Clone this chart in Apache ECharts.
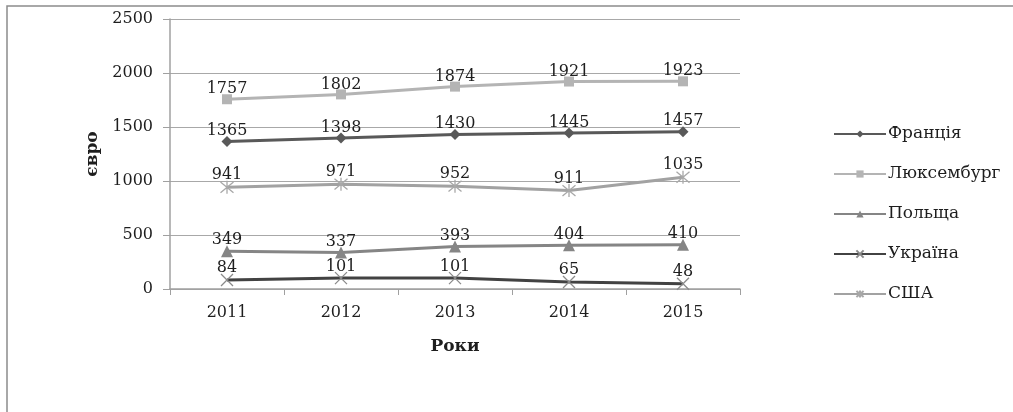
<!DOCTYPE html>
<html><head><meta charset="utf-8">
<script src="https://cdn.jsdelivr.net/npm/echarts@6/dist/echarts.min.js"></script>
<style>html,body{margin:0;padding:0;background:#fff}#c{width:1013px;height:412px}</style>
</head><body><div id="c"></div>
<script>
const years = ['2011','2012','2013','2014','2015'];
const france = [1365, 1398, 1430, 1445, 1457];
const luxembourg = [1757, 1802, 1874, 1921, 1923];
const poland = [349, 337, 393, 404, 410];
const ukraine = [84, 101, 101, 65, 48];
const usa = [941, 971, 952, 911, 1035];
const seriesNames = ['Франція','Люксембург','Польща','Україна','США'];
const yTicks = [0, 500, 1000, 1500, 2000, 2500];

const FONT = 'DejaVu Serif';
const XPATH = 'path://M0,0L10,10M10,0L0,10';
const STAR = 'path://M0,0L10,10M10,0L0,10M5,-1L5,11';

function mk(name, data, color, symbol, size, markerColor) {
  return {
    name, type: 'line', data, symbol, symbolSize: size,
    lineStyle: { color, width: 3 },
    itemStyle: markerColor ? { color: 'rgba(0,0,0,0)', borderColor: markerColor, borderWidth: 1.3 } : { color },
    label: { show: true, position: 'top', distance: -3, color: '#1e1e1e', fontFamily: FONT, fontSize: 16 },
    emphasis: { disabled: true }, animation: false
  };
}

const chart = echarts.init(document.getElementById('c'), null, { renderer: 'canvas' });
chart.setOption({
  animation: false,
  backgroundColor: '#ffffff',
  graphic: [{ type: 'rect', shape: { x: 7, y: 6, width: 1100, height: 500 }, style: { fill: 'none', stroke: '#8c8c8c', lineWidth: 1.5 }, silent: true }],
  grid: { left: 170, top: 19, right: 273, bottom: 123 },
  legend: {
    orient: 'vertical', left: 828, top: 119, itemWidth: 52, itemHeight: 9, itemGap: 20,
    data: seriesNames,
    textStyle: { fontFamily: FONT, fontSize: 17, lineHeight: 20, color: '#1e1e1e', padding: [0, 0, 0, -3] }
  },
  xAxis: {
    type: 'category', data: years, boundaryGap: true,
    name: 'Роки', nameLocation: 'middle', nameGap: 49,
    nameTextStyle: { fontFamily: FONT, fontSize: 17, fontWeight: 'bold', color: '#1e1e1e' },
    axisLine: { lineStyle: { color: '#a0a0a0', width: 1.5 } },
    axisTick: { show: true, length: 6, alignWithLabel: false, lineStyle: { color: '#a0a0a0' } },
    axisLabel: { fontFamily: FONT, fontSize: 16, color: '#1e1e1e', margin: 16 }
  },
  yAxis: {
    type: 'value', min: 0, max: 2500, interval: 500,
    name: 'євро', nameLocation: 'middle', nameGap: 67,
    nameTextStyle: { fontFamily: FONT, fontSize: 17, fontWeight: 'bold', color: '#1e1e1e' },
    axisLine: { show: true, lineStyle: { color: '#a0a0a0', width: 1.5 } },
    axisTick: { show: true, length: 7, lineStyle: { color: '#a0a0a0' } },
    splitLine: { show: true, lineStyle: { color: '#a8a8a8', width: 1.2 } },
    axisLabel: { fontFamily: FONT, fontSize: 16, color: '#1e1e1e', margin: 17,
      formatter: v => yTicks.includes(v) ? String(v) : '' }
  },
  series: [
    mk(seriesNames[0], france, '#595959', 'diamond', 11, null),
    mk(seriesNames[1], luxembourg, '#b4b4b4', 'rect', 10, null),
    mk(seriesNames[2], poland, '#858585', 'triangle', 12, null),
    mk(seriesNames[3], ukraine, '#424242', XPATH, 12, '#8a8a8a'),
    mk(seriesNames[4], usa, '#a2a2a2', STAR, 13, '#a8a8a8')
  ]
});
</script></body></html>
